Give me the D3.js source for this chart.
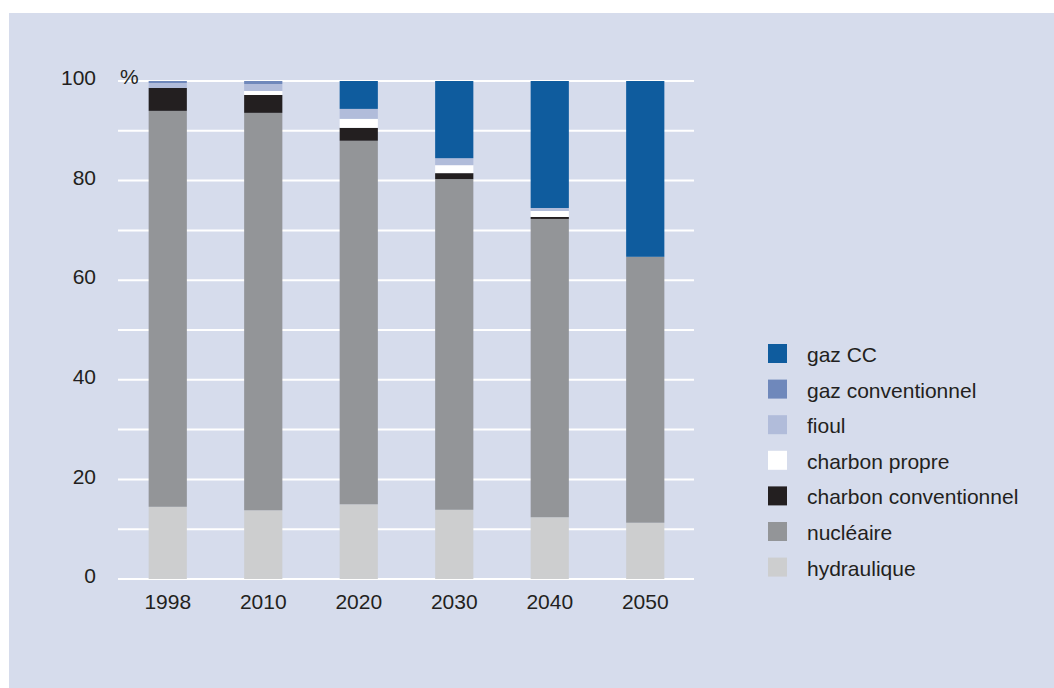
<!DOCTYPE html>
<html>
<head>
<meta charset="utf-8">
<script src="https://cdn.jsdelivr.net/npm/d3@7/dist/d3.min.js"></script>
<style>
  html, body { margin: 0; padding: 0; background: #ffffff; }
  svg { display: block; font-family: "Liberation Sans", Arial, sans-serif; }
</style>
</head>
<body>
<svg id="chart" width="1054" height="688"></svg>
<script>
// Production mix by year, share in %
const years = ["1998", "2010", "2020", "2030", "2040", "2050"];
const hydraulique          = [14.5, 13.8, 15.0, 13.9, 12.4, 11.3];
const nucleaire            = [79.5, 79.8, 73.0, 66.4, 59.9, 53.4];
const charbonConventionnel = [4.6, 3.6, 2.6, 1.2, 0.4, 0];
const charbonPropre        = [0, 0.8, 1.8, 1.6, 1.2, 0];
const fioul                = [1.0, 1.4, 2.0, 1.4, 0.6, 0];
const gazConventionnel     = [0.4, 0.6, 0, 0, 0, 0];
const gazCC                = [0, 0, 5.6, 15.5, 25.5, 35.3];
const yTicks = [0, 20, 40, 60, 80, 100];

// stacking order, bottom to top
const series = [
  { key: "hydraulique", label: "hydraulique", values: hydraulique, color: "#cdcecf" },
  { key: "nucleaire", label: "nucléaire", values: nucleaire, color: "#939598" },
  { key: "charbonConventionnel", label: "charbon conventionnel", values: charbonConventionnel, color: "#231f20" },
  { key: "charbonPropre", label: "charbon propre", values: charbonPropre, color: "#ffffff" },
  { key: "fioul", label: "fioul", values: fioul, color: "#b1bcda" },
  { key: "gazConventionnel", label: "gaz conventionnel", values: gazConventionnel, color: "#6f88bb" },
  { key: "gazCC", label: "gaz CC", values: gazCC, color: "#0f5c9e" }
];

const table = years.map((y, i) => {
  const row = { year: y };
  series.forEach(s => { row[s.key] = s.values[i]; });
  return row;
});

const svg = d3.select("#chart");

// panel background
svg.append("rect")
  .attr("x", 9).attr("y", 13)
  .attr("width", 1054 - 9).attr("height", 688 - 13)
  .attr("fill", "#d6dcec");

const x = d3.scaleBand().domain(years).range([120, 693])
  .paddingInner(0.6).paddingOuter(0.3);
const y = d3.scaleLinear().domain([0, 100]).range([579, 81]);

// gridlines every 10
const grid = svg.append("g");
grid.selectAll("line").data(d3.range(0, 101, 10)).join("line")
  .attr("x1", 118).attr("x2", 694)
  .attr("y1", d => y(d)).attr("y2", d => y(d))
  .attr("stroke", "#ffffff").attr("stroke-width", 2);

// stacked bars
const stack = d3.stack().keys(series.map(s => s.key));
const layers = stack(table);
const barsG = svg.append("g");
layers.forEach((layer, li) => {
  barsG.append("g").attr("fill", series[li].color)
    .selectAll("rect").data(layer).join("rect")
    .attr("x", d => x(d.data.year))
    .attr("width", x.bandwidth())
    .attr("y", d => y(d[1]))
    .attr("height", d => Math.max(0, y(d[0]) - y(d[1])));
});

// y axis labels
const yAxis = d3.axisLeft(y).tickValues(yTicks).tickSize(0).tickPadding(0);
const yG = svg.append("g").attr("transform", "translate(96,-3)").call(yAxis);
yG.select(".domain").remove();
yG.selectAll("text").attr("font-size", 21).attr("fill", "#231f20")
  .attr("font-family", "Liberation Sans, Arial, sans-serif");

svg.append("text").attr("x", 120).attr("y", 84)
  .attr("font-size", 21).attr("fill", "#231f20").text("%");

// x axis labels
const xAxis = d3.axisBottom(x).tickSize(0).tickPadding(0);
const xG = svg.append("g").attr("transform", "translate(0,594)").call(xAxis);
xG.select(".domain").remove();
xG.selectAll("text").attr("font-size", 21).attr("fill", "#231f20")
  .attr("font-family", "Liberation Sans, Arial, sans-serif");

// legend, top to bottom
const legendItems = series.slice().reverse();
const lg = svg.append("g").attr("transform", "translate(768,344)");
const rows = lg.selectAll("g").data(legendItems).join("g")
  .attr("transform", (d, i) => `translate(0,${i * 35.6})`);
rows.append("rect").attr("width", 19).attr("height", 19)
  .attr("fill", d => d.color);
rows.append("text").attr("x", 39).attr("y", 18)
  .attr("font-size", 21).attr("fill", "#231f20")
  .text(d => d.label);
</script>
</body>
</html>
